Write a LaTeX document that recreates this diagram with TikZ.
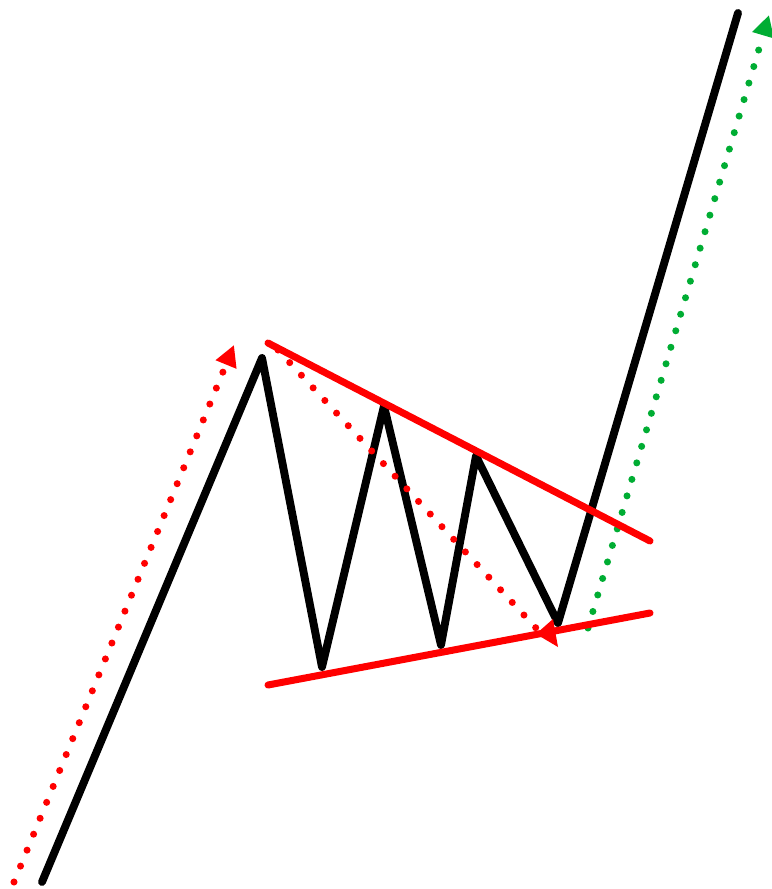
\documentclass[tikz,border=0pt]{standalone}
\usetikzlibrary{arrows.meta}

\begin{document}
\begin{tikzpicture}[
  x=0.02cm, y=-0.02cm,
  price/.style={line width=4.5pt,line cap=round,line join=round},
  trend/.style={red,line width=4pt,line cap=round},
  move/.style={line width=4pt,line cap=round,dash pattern=on 0pt off 9.8pt,-{Triangle[length=12pt,width=12pt]}}
]
  \useasboundingbox (0,0) rectangle (771,889);
  \coordinate (p0) at (42,882);
  \coordinate (p1) at (262,358);
  \coordinate (p2) at (322,667);
  \coordinate (p3) at (384,406);
  \coordinate (p4) at (441,645);
  \coordinate (p5) at (476,456);
  \coordinate (p6) at (558,623);
  \coordinate (p7) at (738,13);
  \coordinate (u0) at (268,343);
  \coordinate (u1) at (650,541);
  \coordinate (l0) at (268,685);
  \coordinate (l1) at (650,613);
  \coordinate (a0) at (14,882);
  \coordinate (a1) at (234,345);
  \coordinate (b0) at (278,350);
  \coordinate (b1) at (536,628);
  \coordinate (c0) at (588,628);
  \coordinate (c1) at (769,15);
  \draw[price] (p0) -- (p1) -- (p2) -- (p3) -- (p4) -- (p5) -- (p6) -- (p7);
  \draw[move,green!60!black!80!cyan] (c0) -- (c1);
  \draw[trend] (u0) -- (u1);
  \draw[trend] (l0) -- (l1);
  \draw[move,red] (a0) -- (a1);
  \draw[move,red,-] (b0) -- (b1);
  \fill[red] (536,634) -- (553,619) -- (558,647) -- cycle;
\end{tikzpicture}
\end{document}
